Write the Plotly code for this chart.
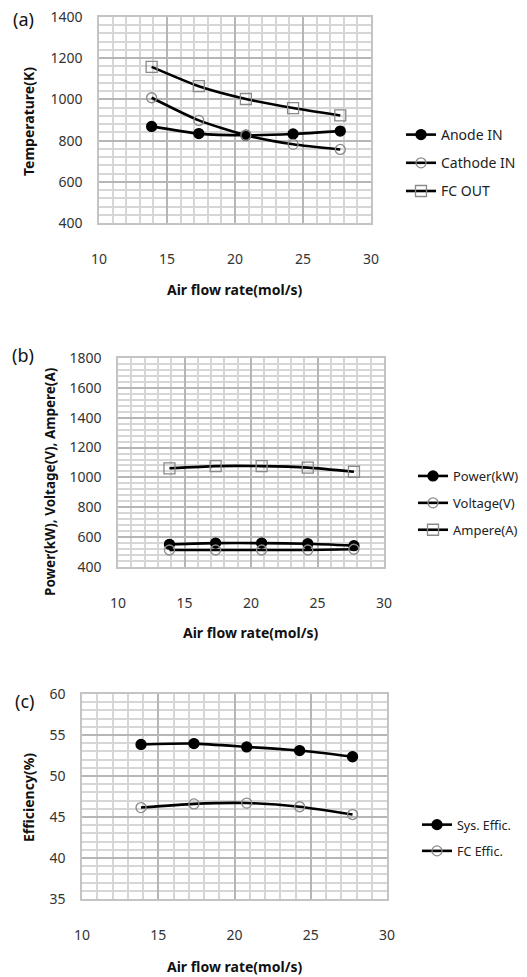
import plotly.graph_objects as go

# ---- data ----
air_flow = [13.87, 17.34, 20.80, 24.27, 27.74]

anode_in = [869, 834, 826, 832, 846]
cathode_in = [1008, 898, 826, 782, 757]
fc_out = [1158, 1064, 1002, 958, 922]

power_kw = [552, 560, 560, 556, 543]
voltage_v = [514, 514, 514, 514, 519]
ampere_a = [1061, 1076, 1076, 1066, 1038]

sys_effic = [53.85, 53.95, 53.55, 53.1, 52.35]
fc_effic = [46.15, 46.6, 46.7, 46.25, 45.3]

W, H = 527, 977
FONT = "Noto Sans"

def px(x):
    return x / W

def py(y):
    return 1 - y / H

fig = go.Figure()

BLACK = "#000000"
GRAY = "#8a8a8a"

def add(x, y, name, symbol, color, size, xa, ya, leg, grp):
    fig.add_trace(go.Scatter(
        x=x, y=y, name=name, mode="lines+markers",
        line=dict(color=BLACK, width=2.6, shape="spline", smoothing=0.6),
        marker=dict(symbol=symbol, size=size, color=color,
                    line=dict(color=color, width=1.3)),
        xaxis=xa, yaxis=ya, legend=leg, legendgroup=grp,
    ))

add(air_flow, anode_in, "Anode IN", "circle", BLACK, 10, "x", "y", "legend", "a1")
add(air_flow, cathode_in, "Cathode IN", "circle-open", GRAY, 10, "x", "y", "legend", "a2")
add(air_flow, fc_out, "FC OUT", "square-open", GRAY, 11, "x", "y", "legend", "a3")

add(air_flow, power_kw, "Power(kW)", "circle", BLACK, 10, "x2", "y2", "legend2", "b1")
add(air_flow, voltage_v, "Voltage(V)", "circle-open", GRAY, 10, "x2", "y2", "legend2", "b2")
add(air_flow, ampere_a, "Ampere(A)", "square-open", GRAY, 11, "x2", "y2", "legend2", "b3")

add(air_flow, sys_effic, "Sys. Effic.", "circle", BLACK, 10, "x3", "y3", "legend3", "c1")
add(air_flow, fc_effic, "FC Effic.", "circle-open", GRAY, 10, "x3", "y3", "legend3", "c2")

MAJOR = "#b6b6b6"
MINOR = "#d6d6d6"
tickfont = dict(family=FONT, size=14, color="#333333")

def xax(dom, anchor):
    return dict(domain=dom, anchor=anchor, range=[10, 30], dtick=5, tick0=10,
                showgrid=True, gridcolor=MAJOR, gridwidth=1.5,
                minor=dict(dtick=1, showgrid=True, gridcolor=MINOR, gridwidth=1.5),
                showline=True, linecolor="#c4c4c4", linewidth=1.5, mirror=True, automargin=False,
                zeroline=False, tickfont=tickfont, ticks="", ticklabelstandoff=22,
                fixedrange=True)

def yax(dom, anchor, rng, dt, mdt):
    return dict(domain=dom, anchor=anchor, range=rng, dtick=dt, tick0=rng[0],
                showgrid=True, gridcolor=MAJOR, gridwidth=1.5,
                minor=dict(dtick=mdt, showgrid=True, gridcolor=MINOR, gridwidth=1.5),
                showline=True, linecolor="#c4c4c4", linewidth=1.5, mirror=True, automargin=False,
                zeroline=False, tickfont=tickfont, ticks="", ticklabelstandoff=12,
                fixedrange=True)

leg_common = dict(bgcolor="rgba(0,0,0,0)", borderwidth=0, xanchor="left", yanchor="middle",
                  tracegroupgap=7, itemwidth=30)

fig.update_layout(
    width=W, height=H,
    margin=dict(l=0, r=0, t=0, b=0, autoexpand=False),
    paper_bgcolor="white", plot_bgcolor="white",
    showlegend=True,
    xaxis=xax([px(99), px(371)], "y"),
    yaxis=yax([py(223), py(17)], "x", [400, 1400], 200, 40),
    xaxis2=xax([px(118), px(384)], "y2"),
    yaxis2=yax([py(567), py(358)], "x2", [400, 1800], 200, 40),
    xaxis3=xax([px(82), px(387)], "y3"),
    yaxis3=yax([py(899), py(694)], "x3", [35, 60], 5, 1),
    legend=dict(x=px(401), y=py(163), font=dict(family=FONT, size=14, color="#222"), **leg_common),
    legend2=dict(x=px(413), y=py(503), font=dict(family=FONT, size=13, color="#222"), **leg_common),
    legend3=dict(x=px(417), y=py(838), font=dict(family=FONT, size=12.5, color="#222"), **leg_common),
)

annots = [
    ("(a)", 23, 19, 0, 18, False),
    ("(b)", 23, 355, 0, 18, False),
    ("(c)", 24, 701, 0, 18, False),
    ("Temperature(K)", 28, 122, -90, 14, True),
    ("Power(kW), Voltage(V), Ampere(A)", 50, 482, -90, 13.5, True),
    ("Efficiency(%)", 28, 798, -90, 14, True),
    ("Air flow rate(mol/s)", 235, 290, 0, 14, True),
    ("Air flow rate(mol/s)", 251, 632, 0, 14, True),
    ("Air flow rate(mol/s)", 234.5, 966, 0, 14, True),
]
for text, x, y, ang, size, bold in annots:
    fig.add_annotation(
        text=f"<b>{text}</b>" if bold else text,
        x=px(x), y=py(y), xref="paper", yref="paper",
        xanchor="center", yanchor="middle", textangle=ang, showarrow=False,
        font=dict(family=FONT, size=size, color="#111"),
    )

fig.write_html("out.html", config={"displayModeBar": False},
               post_script="document.body.style.margin='0';document.body.style.overflow='hidden';")
